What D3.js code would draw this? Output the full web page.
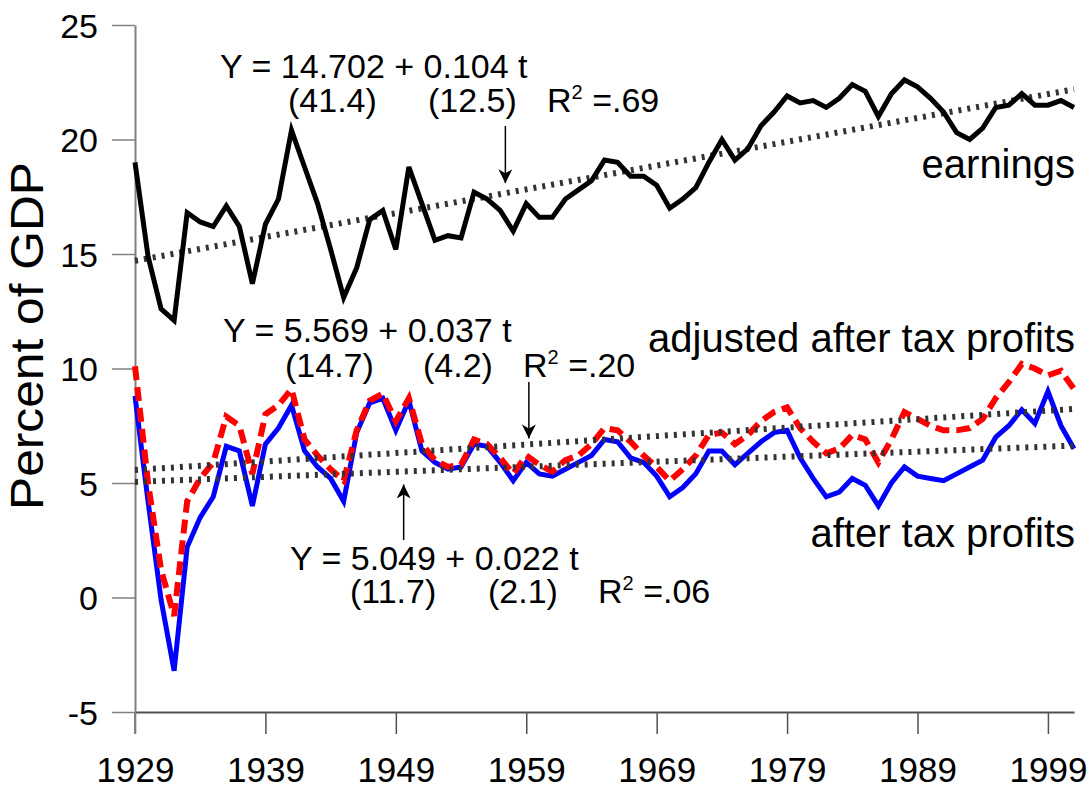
<!DOCTYPE html>
<html>
<head>
<meta charset="utf-8">
<script src="https://cdn.jsdelivr.net/npm/d3@7"></script>
<style>
  body { margin: 0; background: #fff; }
  svg { display: block; font-family: 'Liberation Sans', Arial, sans-serif; }
  .tick text { fill: #000; }
</style>
</head>
<body>
<svg width="1091" height="786"></svg>
<script>
const years = d3.range(1929, 2002);

const earnings = [
  19.0, 14.9, 12.6, 12.1, 16.8, 16.4, 16.2, 17.1, 16.2, 13.7,
  16.3, 17.4, 20.4, 18.8, 17.2, 15.2, 13.1, 14.4, 16.5, 16.9,
  15.2, 18.8, 17.2, 15.6, 15.8, 15.7, 17.7, 17.4, 16.9, 16.0,
  17.2, 16.6, 16.6, 17.4, 17.8, 18.2, 19.1, 19.0, 18.4, 18.4,
  18.0, 17.0, 17.4, 17.9, 19.0, 20.0, 19.1, 19.6, 20.6, 21.2,
  21.9, 21.6, 21.7, 21.4, 21.8, 22.4, 22.1, 21.0, 22.0, 22.6,
  22.3, 21.8, 21.2, 20.3, 20.0, 20.5, 21.4, 21.5, 22.0, 21.5,
  21.5, 21.7, 21.4
];

const afterTax = [
  8.8, 4.2, -0.1, -3.2, 2.2, 3.5, 4.4, 6.6, 6.4, 4.0,
  6.7, 7.4, 8.4, 6.4, 5.7, 5.2, 4.2, 7.2, 8.5, 8.7,
  7.3, 8.6, 6.4, 5.9, 5.6, 5.7, 6.7, 6.6, 5.9, 5.1,
  5.9, 5.4, 5.3, 5.6, 5.9, 6.2, 6.9, 6.8, 6.1, 5.9,
  5.3, 4.4, 4.8, 5.4, 6.4, 6.4, 5.8, 6.3, 6.8, 7.2,
  7.3, 6.1, 5.2, 4.4, 4.6, 5.2, 4.9, 4.0, 5.0, 5.7,
  5.3, 5.2, 5.1, 5.4, 5.7, 6.0, 7.0, 7.5, 8.2, 7.6,
  9.0, 7.5, 6.5
];

const adjusted = [
  10.1, 5.0, 1.2, -0.8, 4.2, 5.2, 5.9, 7.9, 7.5, 5.4,
  8.0, 8.4, 9.1, 6.9, 6.2, 5.6, 5.1, 7.3, 8.6, 8.9,
  7.7, 8.7, 6.7, 6.0, 5.7, 5.8, 6.9, 6.7, 6.1, 5.4,
  6.2, 5.8, 5.5, 6.0, 6.2, 6.7, 7.4, 7.3, 6.8, 6.2,
  5.7, 5.1, 5.6, 6.2, 7.1, 7.2, 6.7, 7.1, 7.7, 8.1,
  8.3, 7.4, 6.8, 6.3, 6.5, 7.1, 6.9, 5.9, 6.9, 8.1,
  7.8, 7.5, 7.3, 7.3, 7.4, 7.8, 8.7, 9.4, 10.2, 10.0,
  9.7, 9.9, 9.1
];

// regression lines as printed on the chart: [intercept, slope], t = year - 1929
const earningsFit = [14.702, 0.104];
const adjustedFit = [5.569, 0.037];
const afterTaxFit = [5.049, 0.022];

const yTicks = [-5, 0, 5, 10, 15, 20, 25];
const xTicks = [1929, 1939, 1949, 1959, 1969, 1979, 1989, 1999];

const svg = d3.select('svg');
const width = +svg.attr('width');
const height = +svg.attr('height');
const margin = { top: 25, right: 17, bottom: 74, left: 135 };
const innerWidth = width - margin.left - margin.right;
const innerHeight = height - margin.top - margin.bottom;

const root = svg.append('g')
  .attr('transform', `translate(${margin.left}, ${margin.top})`);

const xScale = d3.scaleLinear().domain([1929, 2001]).range([0, innerWidth]);
const yScale = d3.scaleLinear().domain([-5, 25]).range([innerHeight, 0]);

// axes
const xAxisGroup = root.append('g')
  .attr('transform', `translate(0, ${innerHeight})`)
  .call(d3.axisBottom(xScale)
    .tickValues(xTicks)
    .tickFormat(d3.format('d'))
    .tickSize(22)
    .tickSizeOuter(0)
    .tickPadding(23));
xAxisGroup.select('.domain').attr('stroke', '#505050').attr('stroke-width', 2);
xAxisGroup.selectAll('.tick line').attr('stroke', '#505050').attr('stroke-width', 1.5);
xAxisGroup.selectAll('.tick text').attr('font-size', 35);

const yAxisGroup = root.append('g')
  .call(d3.axisLeft(yScale)
    .tickValues(yTicks)
    .tickFormat(d => String(d))
    .tickSize(23)
    .tickSizeOuter(0)
    .tickPadding(14));
yAxisGroup.select('.domain').attr('stroke', '#808080').attr('stroke-width', 2);
yAxisGroup.selectAll('.tick line').attr('stroke', '#808080').attr('stroke-width', 1.5);
yAxisGroup.selectAll('.tick text').attr('font-size', 34).attr('dy', '0.36em');

// extend y axis line down to the 1929 tick
root.append('line')
  .attr('x1', 0).attr('x2', 0)
  .attr('y1', innerHeight).attr('y2', innerHeight + 22)
  .attr('stroke', '#808080').attr('stroke-width', 2);

svg.append('text')
  .text('Percent of GDP')
  .attr('transform', `translate(43, 336) rotate(-90)`)
  .attr('text-anchor', 'middle')
  .attr('font-size', 46)
  .attr('textLength', 348)
  .attr('lengthAdjust', 'spacingAndGlyphs');

// lines
const toPoints = values => values.map((v, i) => ({ year: years[i], value: v }));
const line = d3.line()
  .x(d => xScale(d.year))
  .y(d => yScale(d.value))
  .curve(d3.curveLinear);

const fitValue = (fit, year) => fit[0] + fit[1] * (year - 1929);
const fitPoints = fit => [1929, 2001].map(yr => ({ year: yr, value: fitValue(fit, yr) }));

const drawTrend = fit => root.append('path')
  .attr('d', line(fitPoints(fit)))
  .attr('fill', 'none')
  .attr('stroke', '#333')
  .attr('stroke-width', 6)
  .attr('stroke-dasharray', '3,6');

drawTrend(earningsFit);

root.append('path')
  .attr('d', line(toPoints(earnings)))
  .attr('fill', 'none')
  .attr('stroke', '#000')
  .attr('stroke-width', 5)
  .attr('stroke-linejoin', 'miter');

root.append('path')
  .attr('d', line(toPoints(afterTax)))
  .attr('fill', 'none')
  .attr('stroke', '#0000ff')
  .attr('stroke-width', 5);

root.append('path')
  .attr('d', line(toPoints(adjusted)))
  .attr('fill', 'none')
  .attr('stroke', '#ff0000')
  .attr('stroke-width', 6)
  .attr('stroke-dasharray', '14,7');

drawTrend(adjustedFit);
drawTrend(afterTaxFit);

// annotations
const defs = svg.append('defs');
defs.append('marker')
  .attr('id', 'arrow')
  .attr('markerUnits', 'userSpaceOnUse')
  .attr('viewBox', '0 0 14 14')
  .attr('markerWidth', 14).attr('markerHeight', 14)
  .attr('refX', 14).attr('refY', 7)
  .attr('orient', 'auto')
  .append('path')
  .attr('d', 'M0,0L14,7L0,14L4,7Z')
  .attr('fill', '#000');

const addText = (str, x, y, size, anchor) => root.append('text')
  .text(str)
  .attr('x', x).attr('y', y)
  .attr('font-size', size)
  .attr('text-anchor', anchor || 'start');

const addR2 = (val, x, y) => {
  const t = root.append('text').attr('x', x).attr('y', y).attr('font-size', 34);
  t.append('tspan').text('R');
  t.append('tspan').text('2').attr('font-size', 20).attr('dy', -13);
  t.append('tspan').text(' =' + val).attr('dy', 13);
};

const addArrow = (fit, year, startY, gap) => {
  const px = xScale(year);
  const lineY = yScale(fitValue(fit, year));
  const tipY = startY < lineY ? lineY - gap : lineY + gap;
  root.append('line')
    .attr('x1', px).attr('x2', px)
    .attr('y1', startY).attr('y2', tipY)
    .attr('stroke', '#000')
    .attr('stroke-width', 1.5)
    .attr('marker-end', 'url(#arrow)');
};

addText('Y = 14.702 + 0.104 t', 85, 53, 34);
addText('(41.4)', 153, 87, 34);
addText('(12.5)', 293, 87, 34);
addR2('.69', 412, 87);
addArrow(earningsFit, 1957.4, 101, 10);
addText('earnings', 940, 153, 40, 'end');

addText('Y = 5.569 + 0.037 t', 88, 317, 34);
addText('(14.7)', 150, 352, 34);
addText('(4.2)', 288, 352, 34);
addR2('.20', 388, 352);
addArrow(adjustedFit, 1959.2, 357, 6);
addText('adjusted after tax profits', 940, 327, 40, 'end');

addText('Y = 5.049 + 0.022 t', 155, 545, 34);
addText('(11.7)', 215, 578, 34);
addText('(2.1)', 353, 578, 34);
addR2('.06', 463, 578);
addArrow(afterTaxFit, 1949.6, 515, 13);
addText('after tax profits', 940, 522, 40, 'end');
</script>
</body>
</html>
